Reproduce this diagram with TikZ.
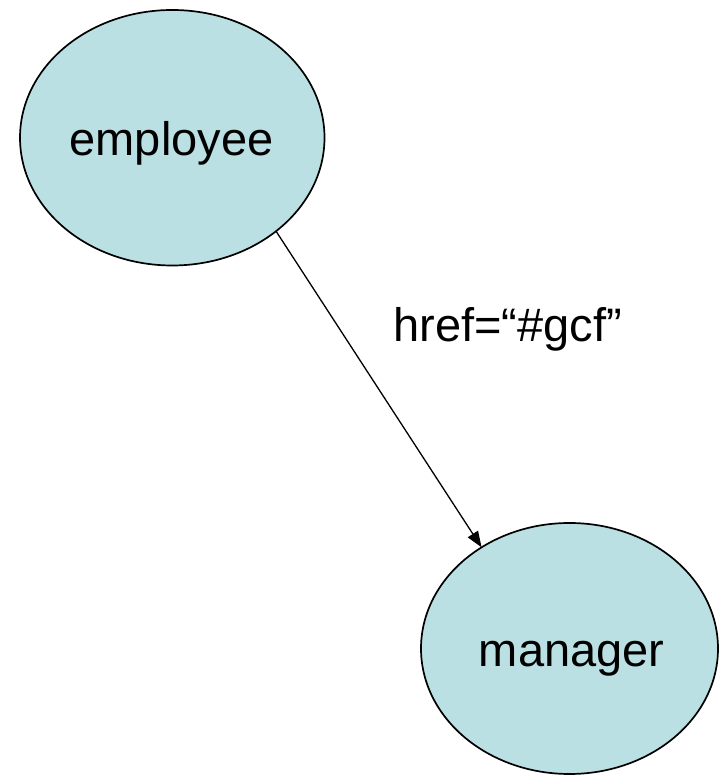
\documentclass[tikz,border=0pt]{standalone}
\usepackage{fontspec}
\setmainfont{Liberation Sans}
\usetikzlibrary{shapes.geometric,arrows.meta}
\definecolor{nodefill}{RGB}{187,224,227}
\tikzset{
  blob/.style={ellipse, draw=black, fill=nodefill, line width=1.7pt,
               inner sep=0pt, outer sep=0pt},
  lbl/.style={inner sep=0pt, anchor=base, font=\fontsize{47}{56}\selectfont},
  link/.style={line width=1.3pt, -{Triangle[length=16pt,width=12pt]}}
}
\begin{document}
\begin{tikzpicture}[x=1pt,y=1pt]
  \useasboundingbox (0,0) rectangle (719,776);
  % entity ellipses
  \node[blob, minimum width=304.5pt, minimum height=255.5pt] (emp) at (172.25,638.25) {};
  \node[blob, minimum width=297pt, minimum height=251pt] (mgr) at (569.5,127.5) {};
  % their captions
  \node[lbl] (empt) at (171.5,620.3) {employee};
  \node[lbl] (mgrt) at (571.7,109.3) {manager};
  % link between them
  \draw[link] (emp.-42.5) -- (mgr.131.9);
  \node[lbl] (hreft) at (507.5,434.3) {href=“\#gcf”};
\end{tikzpicture}
\end{document}
